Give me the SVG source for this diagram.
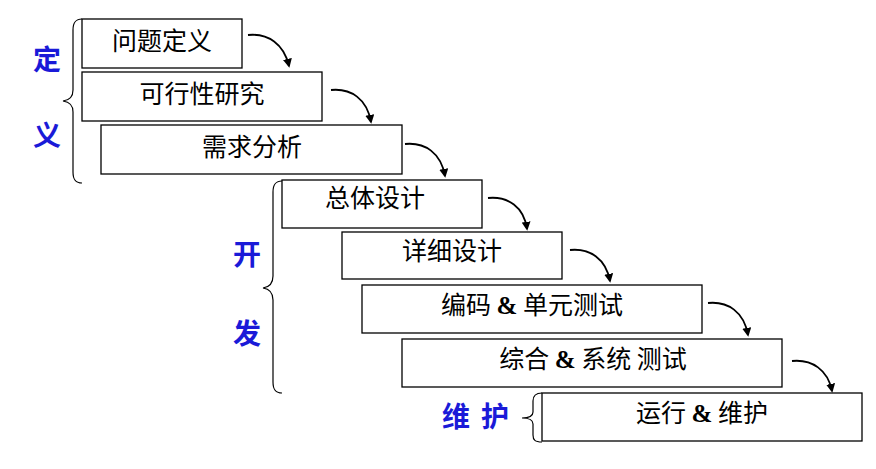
<svg xmlns="http://www.w3.org/2000/svg" width="876" height="469" viewBox="0 0 876 469">
<defs>
<marker id="ah" viewBox="0 0 10 10" refX="8" refY="5" markerWidth="5" markerHeight="5" orient="auto" markerUnits="strokeWidth">
<path d="M0,0 L10,5 L0,10 z" fill="#000"/>
</marker>
<style>
.box{fill:#fff;stroke:#000;stroke-width:1.3}
.t{font-family:"Noto Sans CJK SC","Liberation Serif",serif;font-size:25px;fill:#000;text-anchor:middle}
.amp{font-family:"Liberation Serif",serif;font-weight:bold}
.lab{font-family:"Noto Sans CJK SC",sans-serif;font-size:28px;fill:#1a1ad8;font-weight:bold}
.br{fill:none;stroke:#000;stroke-width:1.2}
.arr{fill:none;stroke:#000;stroke-width:1.8;marker-end:url(#ah)}
</style>
</defs>
<rect width="876" height="469" fill="#fff"/>
<g id="labels">
<text class="lab" x="33" y="70">定</text>
<text class="lab" x="33" y="146">义</text>
<text class="lab" x="233" y="265">开</text>
<text class="lab" x="233" y="344">发</text>
<text class="lab" x="442" y="427">维</text>
<text class="lab" x="481" y="427">护</text>
</g>
<g id="braces">
<path class="br" d="M82,19 C75,19 73,23 73,30 L73,90 C73,97 70,100 63,101 C70,102 73,105 73,112 L73,172 C73,179 75,183 82,183"/>
<path class="br" d="M282,181 C275,181 273,185 273,192 L273,276 C273,283 270,287 263,288 C270,289 273,293 273,300 L273,382 C273,389 275,393 282,393"/>
<path class="br" d="M542,393 C535,393 533,396 533,401 L533,412 C533,416 530,418 522,418 C530,418 533,420 533,424 L533,435 C533,440 535,442 542,442"/>
</g>
<g id="n1"><rect class="box" x="82" y="19" width="160" height="49"/><text class="t" x="162" y="50">问题定义</text></g>
<g id="n2"><rect class="box" x="82" y="72" width="240" height="49"/><text class="t" x="202" y="103">可行性研究</text></g>
<g id="n3"><rect class="box" x="101" y="125" width="301" height="49"/><text class="t" x="252" y="156">需求分析</text></g>
<g id="n4"><rect class="box" x="282" y="180" width="200" height="48"/><text class="t" x="375" y="207">总体设计</text></g>
<g id="n5"><rect class="box" x="342" y="232" width="220" height="47"/><text class="t" x="452" y="260">详细设计</text></g>
<g id="n6"><rect class="box" x="362" y="285" width="340" height="48"/><text class="t" x="532" y="314">编码 <tspan class="amp">&amp;</tspan> 单元测试</text></g>
<g id="n7"><rect class="box" x="402" y="339" width="380" height="48"/><text class="t" x="593" y="368">综合 <tspan class="amp">&amp;</tspan> 系统 测试</text></g>
<g id="n8"><rect class="box" x="542" y="393" width="320" height="48"/><text class="t" x="702" y="422">运行 <tspan class="amp">&amp;</tspan> 维护</text></g>
<g id="connectors">
<path class="arr" d="M248,35 C268,33 284,44 289,66"/>
<path class="arr" d="M331,90 C351,88 367,99 371,122"/>
<path class="arr" d="M405,144 C425,142 441,153 445,176"/>
<path class="arr" d="M488,198 C508,196 524,207 527,229"/>
<path class="arr" d="M570,250 C590,248 606,259 610,281"/>
<path class="arr" d="M708,303 C728,301 744,312 748,335"/>
<path class="arr" d="M792,361 C812,359 828,370 832,391"/>
</g>
</svg>
